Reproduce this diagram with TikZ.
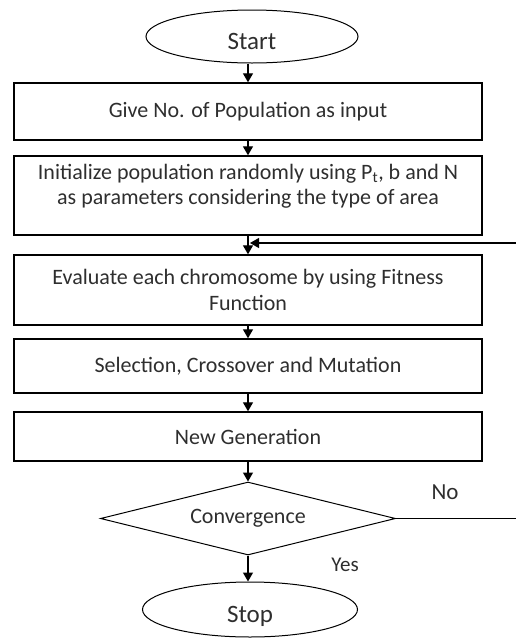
\documentclass[tikz,border=0pt]{standalone}
\usepackage{fontspec}
\setmainfont{Carlito}
\usetikzlibrary{shapes.geometric,arrows.meta}
\definecolor{txt}{HTML}{2E2E2E}
\begin{document}
\begin{tikzpicture}[x=1pt,y=-1pt,
  box/.style={draw=black, line width=1.4pt, minimum width=468pt, inner sep=0pt,
    align=center, text=txt, font=\fontsize{22}{26}\selectfont},
  boxtext/.style={inner sep=0pt, align=center, text=txt, font=\fontsize{22}{25}\selectfont},
  term/.style={draw=black, ellipse, line width=1pt, inner sep=0pt, text=txt,
    text height=26pt, text depth=0pt, font=\fontsize{25}{28}\selectfont},
  dec/.style={draw=black, diamond, aspect=4, line width=1pt, inner sep=0pt,
    minimum width=295pt, minimum height=73pt, text=txt, font=\fontsize{22}{26}\selectfont},
  lab/.style={text=txt, inner sep=0pt},
  conn/.style={draw=black, line width=1.2pt},
  arr/.style={conn, -{Triangle[width=10pt,length=9pt]}}]
\useasboundingbox (0,0) rectangle (515,638);
\node[term, minimum width=212pt, minimum height=53pt] (start) at (252,36.5) {Start};
\node[box, minimum height=57pt] (b1) at (248,111.5) {Give No. of Population as input};
\node[box, minimum height=79pt] (b2) at (248,195.5) {};
\node[boxtext] (b2t) at (248,186) {Initialize population randomly using P\textsubscript{t}, b and N\\as parameters considering the type of area};
\node[box, minimum height=70pt] (b3) at (248,290) {Evaluate each chromosome by using Fitness\\Function};
\node[box, minimum height=54pt] (b4) at (248,366) {Selection, Crossover and Mutation};
\node[box, minimum height=49pt] (b5) at (248,436.5) {New Generation};
\node[dec] (conv) at (248,518.5) {Convergence};
\node[term, minimum width=215pt, minimum height=55pt] (stop) at (250,609.5) {Stop};
\node[lab, font=\fontsize{23}{26}\selectfont] (no) at (445,492) {No};
\node[lab, font=\fontsize{21}{24}\selectfont] (yes) at (345,565) {Yes};
\coordinate (m) at (250,243);
\coordinate (r1) at (518,518.5);
\coordinate (r2) at (518,243);
\draw[arr] (start.south -| b1.north) -- (b1.north);
\draw[arr] (b1.south) -- (b2.north);
\draw[arr] (b2.south) -- (b3.north);
\draw[arr] (b3.south) -- (b4.north);
\draw[arr] (b4.south) -- (b5.north);
\draw[arr] (b5.south) -- (conv.north);
\draw[arr] (conv.south) -- (stop.north -| conv.south);
\draw[conn] (conv.east) -- (r1) -- (r2);
\draw[arr] (r2) -- (m);
\end{tikzpicture}
\end{document}
